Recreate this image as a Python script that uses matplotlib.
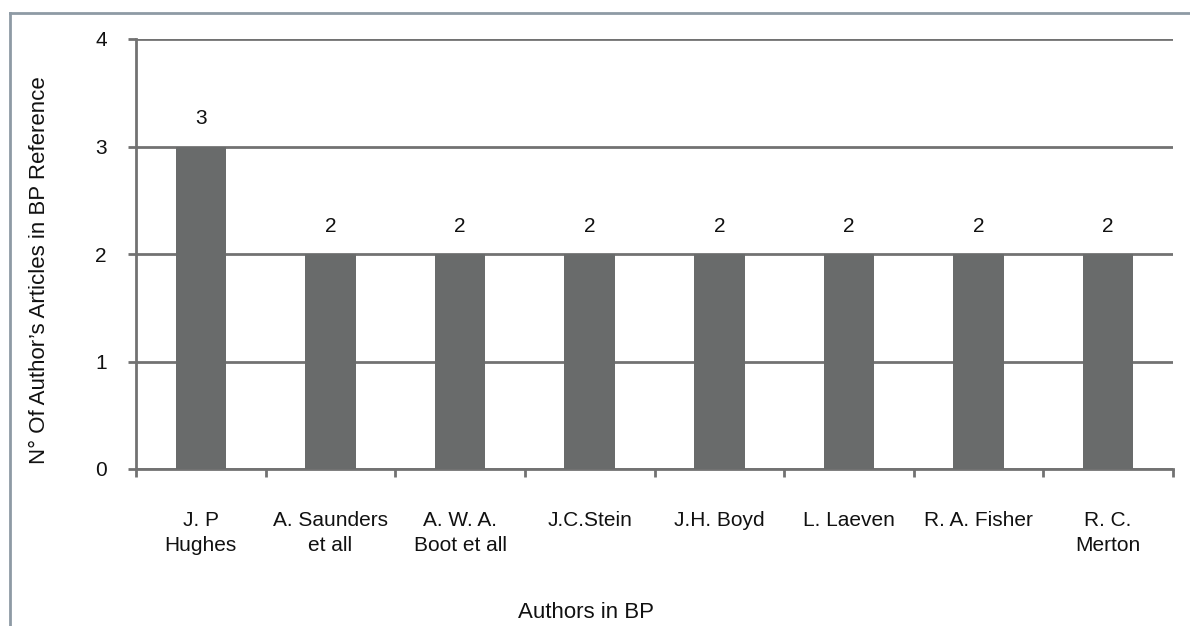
import matplotlib.pyplot as plt
import numpy as np
from matplotlib.lines import Line2D

# data
authors = ['J. P\nHughes', 'A. Saunders\net all', 'A. W. A.\nBoot et all', 'J.C.Stein',
           'J.H. Boyd', 'L. Laeven', 'R. A. Fisher', 'R. C.\nMerton']
counts = [3, 2, 2, 2, 2, 2, 2, 2]
yticks = [0, 1, 2, 3, 4]

plt.rcParams['font.family'] = ['Liberation Sans', 'DejaVu Sans']

bar_col = '#696b6b'
line_col = '#727272'
txt_col = '#111111'

fig = plt.figure(figsize=(11.9, 6.26), dpi=100)
fig.patch.set_facecolor('white')
ax = fig.add_axes([136/1190, 1-469/626, (1173-136)/1190, 430/626])

x = np.arange(len(authors))
bars = ax.bar(x, counts, width=0.39, color=bar_col, zorder=3)

# value labels
for xi, v in zip(x, counts):
    ax.annotate(str(v), xy=(xi, v), xytext=(0, 20), textcoords='offset points',
                ha='center', va='center', fontsize=15, color=txt_col)

ax.set_xlim(-0.5, len(authors) - 0.5)
ax.set_ylim(0, 4)
ax.set_yticks(yticks)
ax.yaxis.grid(True, color=line_col, linewidth=2, zorder=1)

for s in ['top', 'right']:
    ax.spines[s].set_visible(False)
for s in ['left', 'bottom']:
    ax.spines[s].set_color(line_col)
    ax.spines[s].set_linewidth(2)

ax.set_xticks(x)
ax.set_xticklabels(authors, fontsize=15, color=txt_col, linespacing=1.4)
ax.tick_params(axis='x', which='major', length=0, pad=30)
ax.set_xticks(np.arange(-0.5, len(authors)), minor=True)
ax.tick_params(axis='x', which='minor', length=6, width=2, color=line_col)
ax.tick_params(axis='y', length=6, width=2, color=line_col, labelsize=15,
               labelcolor=txt_col, pad=15)

ax.set_xlabel('Authors in BP', fontsize=16, color=txt_col)
ax.xaxis.set_label_coords(0.434, -0.309)
ax.set_ylabel('N° Of Author\u2019s Articles in BP Reference', fontsize=16, color=txt_col)
ax.yaxis.set_label_coords(-0.083, 0.463)

# outer frame (left and top edges visible)
frame_col = '#8e9aa5'
fig.add_artist(Line2D([10/1190, 10/1190], [0, 1-13/626], color=frame_col, linewidth=2,
                      transform=fig.transFigure))
fig.add_artist(Line2D([10/1190, 1], [1-13/626, 1-13/626], color=frame_col, linewidth=2,
                      transform=fig.transFigure))

fig.savefig('out.png', dpi=100, facecolor='white')
